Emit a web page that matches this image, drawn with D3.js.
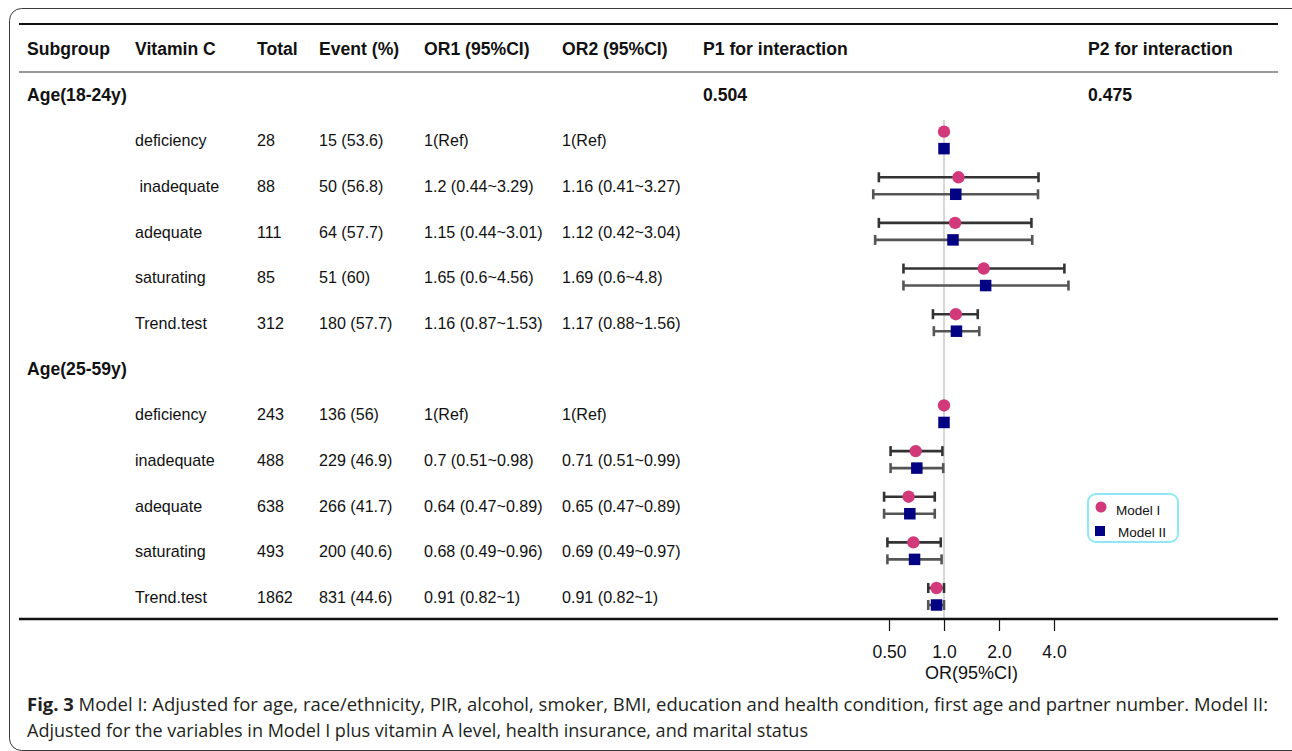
<!DOCTYPE html>
<html>
<head>
<meta charset="utf-8">
<script src="https://cdn.jsdelivr.net/npm/d3@7"></script>
<style>
  html, body { margin: 0; padding: 0; background: #fff; }
  svg { display: block; }
  .tbl { font-family: "Liberation Sans", Arial, sans-serif; fill: #111; }
  .cap { font-family: "Open Sans", "Noto Sans", sans-serif; fill: #231f20; }
</style>
</head>
<body>
<svg id="chart" width="1292" height="751"></svg>
<script>
// ---------------- data ----------------
const headers = ["Subgroup", "Vitamin C", "Total", "Event (%)", "OR1 (95%CI)", "OR2 (95%CI)", "P1 for interaction", "P2 for interaction"];
const subgroups = ["Age(18-24y)", "Age(25-59y)"];
const pInteraction1 = ["0.504", "0.504"];
const pInteraction2 = ["0.475", "0.475"];
const levels1 = ["deficiency", " inadequate", "adequate", "saturating", "Trend.test"];
const levels2 = ["deficiency", "inadequate", "adequate", "saturating", "Trend.test"];
const totals = [28, 88, 111, 85, 312, 243, 488, 638, 493, 1862];
const events = ["15 (53.6)", "50 (56.8)", "64 (57.7)", "51 (60)", "180 (57.7)", "136 (56)", "229 (46.9)", "266 (41.7)", "200 (40.6)", "831 (44.6)"];
const or1 = [1, 1.2, 1.15, 1.65, 1.16, 1, 0.7, 0.64, 0.68, 0.91];
const lo1 = [null, 0.44, 0.44, 0.6, 0.87, null, 0.51, 0.47, 0.49, 0.82];
const hi1 = [null, 3.29, 3.01, 4.56, 1.53, null, 0.98, 0.89, 0.96, 1];
const or2 = [1, 1.16, 1.12, 1.69, 1.17, 1, 0.71, 0.65, 0.69, 0.91];
const lo2 = [null, 0.41, 0.42, 0.6, 0.88, null, 0.51, 0.47, 0.49, 0.82];
const hi2 = [null, 3.27, 3.04, 4.8, 1.56, null, 0.99, 0.89, 0.97, 1];
const axisTicks = [0.5, 1, 2, 4];
const axisTickLabels = ["0.50", "1.0", "2.0", "4.0"];
const axisTitle = "OR(95%CI)";
const legendLabels = ["Model I", "Model II"];
const captionBold = "Fig. 3";
const captionLine1 = "Model I: Adjusted for age, race/ethnicity, PIR, alcohol, smoker, BMI, education and health condition, first age and partner number. Model II:";
const captionLine2 = "Adjusted for the variables in Model I plus vitamin A level, health insurance, and marital status";

// --------------- build rows ---------------
const rows = [];
subgroups.forEach((sg, g) => {
  rows.push({ id: "h" + g, type: "header", label: sg, p1: pInteraction1[g], p2: pInteraction2[g], show: g === 0 });
  const lv = g === 0 ? levels1 : levels2;
  lv.forEach((l, j) => {
    const i = g * 5 + j;
    rows.push({ id: "r" + i, type: "row", label: l, total: totals[i], event: events[i],
      or1: or1[i], lo1: lo1[i], hi1: hi1[i], or2: or2[i], lo2: lo2[i], hi2: hi2[i] });
  });
});

function orText(o, l, h) {
  if (l == null) return "1(Ref)";
  return `${o} (${l}~${h})`;
}

// --------------- layout ---------------
const svg = d3.select("#chart");
const colX = [27, 135, 257, 319, 424, 562, 703, 1088];
const y = d3.scalePoint().domain(rows.map(r => r.id)).range([95, 597]);
const x = d3.scaleLog().base(2).domain([0.5, 4]).range([889, 1054]);

const C_CIRCLE = "#d2397a";
const C_SQUARE = "#020283";
const HF = 17.6, RF = 16.1;

// frame
svg.append("rect").attr("x", 9.5).attr("y", 8.5).attr("width", 1300).attr("height", 742)
  .attr("rx", 12).attr("fill", "none").attr("stroke", "#3a3a3a").attr("stroke-width", 1);

// table lines
svg.append("line").attr("x1", 19).attr("x2", 1278).attr("y1", 24).attr("y2", 24).attr("stroke", "#111").attr("stroke-width", 2.2);
svg.append("line").attr("x1", 19).attr("x2", 1278).attr("y1", 72).attr("y2", 72).attr("stroke", "#333").attr("stroke-width", 1);

// headers
svg.append("g").selectAll("text").data(headers).join("text")
  .attr("class", "tbl").attr("x", (d, i) => colX[i]).attr("y", 49).attr("dy", "0.36em")
  .attr("font-size", HF).attr("font-weight", "bold").text(d => d);

// subgroup header rows
const hdr = rows.filter(r => r.type === "header");
const gH = svg.append("g");
gH.selectAll("text.sg").data(hdr).join("text").attr("class", "tbl sg")
  .attr("x", colX[0]).attr("y", d => y(d.id)).attr("dy", "0.36em")
  .attr("font-size", HF).attr("font-weight", "bold").text(d => d.label);
gH.selectAll("text.p1").data(hdr.filter(d => d.show)).join("text").attr("class", "tbl p1")
  .attr("x", colX[6]).attr("y", d => y(d.id)).attr("dy", "0.36em")
  .attr("font-size", HF).attr("font-weight", "bold").text(d => d.p1);
gH.selectAll("text.p2").data(hdr.filter(d => d.show)).join("text").attr("class", "tbl p2")
  .attr("x", colX[7]).attr("y", d => y(d.id)).attr("dy", "0.36em")
  .attr("font-size", HF).attr("font-weight", "bold").text(d => d.p2);

// data rows
const dr = rows.filter(r => r.type === "row");
const cols = [
  { x: colX[1], f: d => d.label },
  { x: colX[2], f: d => d.total },
  { x: colX[3], f: d => d.event },
  { x: colX[4], f: d => orText(d.or1, d.lo1, d.hi1) },
  { x: colX[5], f: d => orText(d.or2, d.lo2, d.hi2) }
];
const gR = svg.append("g");
cols.forEach(c => {
  gR.append("g").selectAll("text").data(dr).join("text").attr("class", "tbl")
    .attr("x", c.x).attr("y", d => y(d.id)).attr("dy", "0.36em")
    .attr("font-size", RF).style("white-space", "pre").text(c.f);
});

// reference line
svg.append("line").attr("x1", x(1)).attr("x2", x(1)).attr("y1", 120).attr("y2", 619)
  .attr("stroke", "#bdbdbd").attr("stroke-width", 1.2);

// whiskers
const OFF1 = -9, OFF2 = 8, CAP = 5;
function whiskers(data, lo, hi, off, color) {
  const g = svg.append("g").attr("stroke", color).attr("stroke-width", 2.6);
  const dd = data.filter(d => d[lo] != null);
  g.selectAll("line.h").data(dd).join("line").attr("class", "h")
    .attr("x1", d => x(d[lo])).attr("x2", d => x(d[hi]))
    .attr("y1", d => y(d.id) + off).attr("y2", d => y(d.id) + off);
  g.selectAll("line.l").data(dd).join("line").attr("class", "l")
    .attr("x1", d => x(d[lo])).attr("x2", d => x(d[lo]))
    .attr("y1", d => y(d.id) + off - CAP).attr("y2", d => y(d.id) + off + CAP);
  g.selectAll("line.r").data(dd).join("line").attr("class", "r")
    .attr("x1", d => x(d[hi])).attr("x2", d => x(d[hi]))
    .attr("y1", d => y(d.id) + off - CAP).attr("y2", d => y(d.id) + off + CAP);
}
whiskers(dr, "lo1", "hi1", OFF1, "#333");
whiskers(dr, "lo2", "hi2", OFF2, "#555");

// points
svg.append("g").selectAll("circle").data(dr).join("circle")
  .attr("cx", d => x(d.or1)).attr("cy", d => y(d.id) + OFF1).attr("r", 6.2).attr("fill", C_CIRCLE);
const SQ = 11.5;
svg.append("g").selectAll("rect").data(dr).join("rect")
  .attr("x", d => x(d.or2) - SQ / 2).attr("y", d => y(d.id) + OFF2 - SQ / 2)
  .attr("width", SQ).attr("height", SQ).attr("fill", C_SQUARE);

// bottom line + axis
svg.append("line").attr("x1", 19).attr("x2", 1278).attr("y1", 619).attr("y2", 619).attr("stroke", "#111").attr("stroke-width", 2.5);
const axis = d3.axisBottom(x).tickValues(axisTicks).tickFormat((d, i) => axisTickLabels[i]).tickSize(11).tickSizeOuter(0);
const gA = svg.append("g").attr("transform", "translate(0,620)").call(axis);
gA.select(".domain").remove();
gA.selectAll(".tick line").attr("stroke", "#111").attr("stroke-width", 1.2);
gA.selectAll(".tick text").attr("class", "tbl").attr("font-size", 17.5).attr("y", 32).attr("dy", "0.36em").attr("fill", "#111");
svg.append("text").attr("class", "tbl").attr("x", x(Math.SQRT2)).attr("y", 673).attr("dy", "0.36em")
  .attr("text-anchor", "middle").attr("font-size", 18).text(axisTitle);

// legend
const lg = svg.append("g");
lg.append("rect").attr("x", 1088).attr("y", 494).attr("width", 90).attr("height", 48).attr("rx", 8)
  .attr("fill", "#fff").attr("stroke", "#8fe8f7").attr("stroke-width", 2);
lg.append("circle").attr("cx", 1101).attr("cy", 507).attr("r", 5.5).attr("fill", C_CIRCLE);
lg.append("rect").attr("x", 1095).attr("y", 526).attr("width", 10).attr("height", 10).attr("fill", C_SQUARE);
lg.selectAll("text").data(legendLabels).join("text").attr("class", "tbl")
  .attr("x", (d, i) => i === 0 ? 1116 : 1118).attr("y", (d, i) => i === 0 ? 510 : 532).attr("dy", "0.36em")
  .attr("font-size", 13.5).text(d => d);

// caption
const c1 = svg.append("text").attr("class", "cap").attr("x", 27).attr("y", 711).attr("font-size", 18.5)
  .attr("textLength", 1241).attr("lengthAdjust", "spacingAndGlyphs");
c1.append("tspan").attr("font-weight", "bold").text(captionBold + "  ");
c1.append("tspan").text(captionLine1);
svg.append("text").attr("class", "cap").attr("x", 27).attr("y", 737).attr("font-size", 18.5)
  .attr("textLength", 781).attr("lengthAdjust", "spacingAndGlyphs").text(captionLine2);
</script>
</body>
</html>
